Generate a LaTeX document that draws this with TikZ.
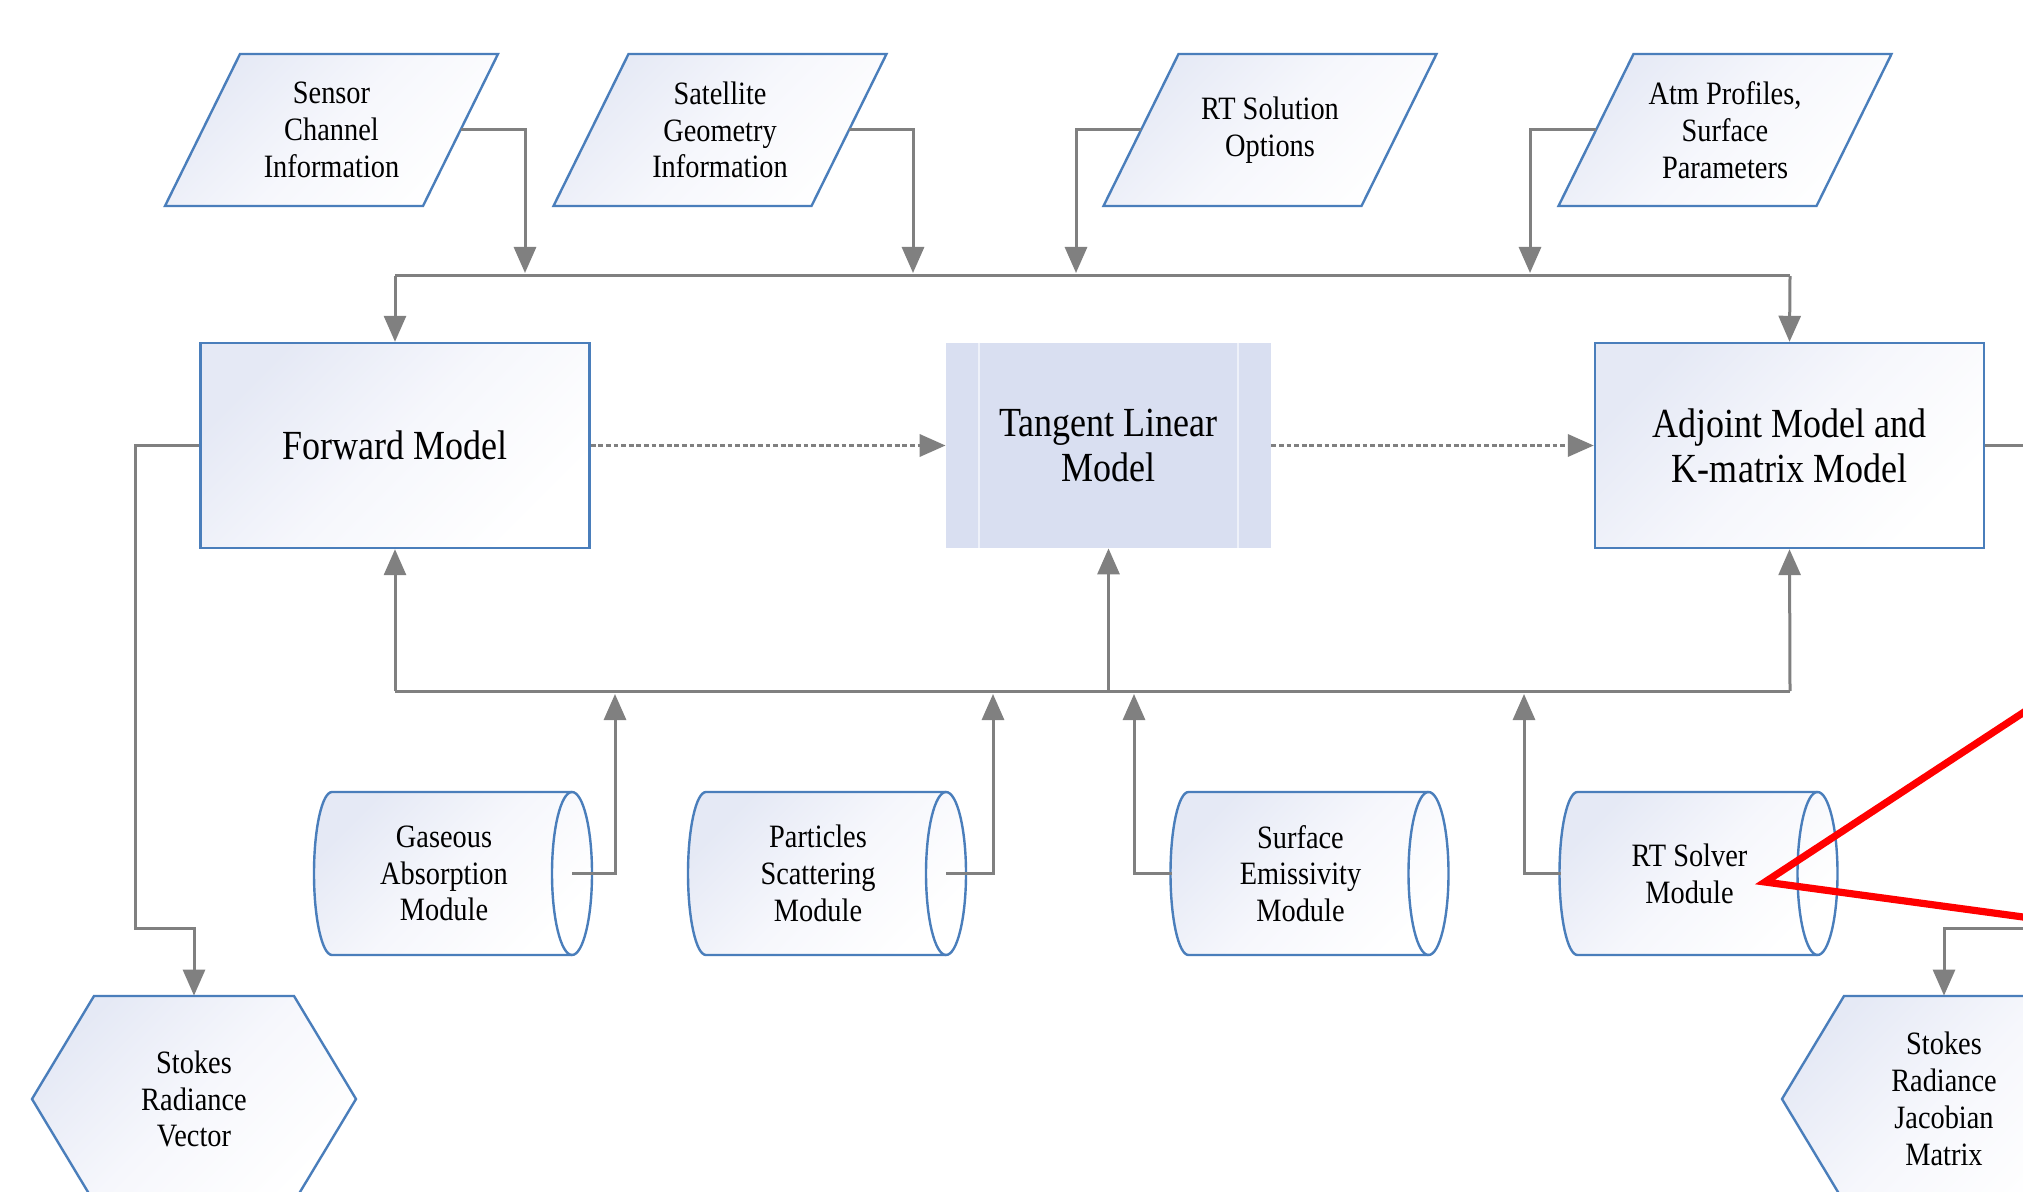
\documentclass[tikz,border=0pt]{standalone}
\usepackage{fontspec}
\setmainfont{Liberation Serif}[FakeStretch=0.87]
\usetikzlibrary{arrows.meta}
\definecolor{bblue}{RGB}{74,126,187}
\definecolor{lgray}{RGB}{128,128,128}
\definecolor{gradc}{RGB}{229,233,245}
\definecolor{gradm}{RGB}{246,247,252}
\definecolor{tlmfill}{RGB}{217,223,241}
\definecolor{tlmline}{RGB}{238,241,249}
\newcommand\fbig{\fontsize{20.7pt}{22.5pt}\selectfont}
\newcommand\fsmall{\fontsize{16.3pt}{18.4pt}\selectfont}
% shapes drawn from centre coordinates (image pixels)
\newcommand\parashape[2]{\path[shp] (#1,#2) ++(-166.5,76) -- ++(258,0) -- ++(75,-152) -- ++(-258,0) -- cycle;}
\newcommand\cylshape[2]{%
  \path[shp] (#1,#2) ++(-120,-81.5) -- ++(240,0)
     arc[start angle=90,end angle=-90,x radius=10pt,y radius=40.75pt]
     -- ++(-240,0)
     arc[start angle=270,end angle=90,x radius=9pt,y radius=40.75pt] -- cycle;
  \draw[bblue,line width=1.2pt] (#1,#2) ++(120,-81.5)
     arc[start angle=90,end angle=270,x radius=10pt,y radius=40.75pt];}
\newcommand\hexshape[2]{\path[shp] (#1,#2) ++(-100,-103) -- ++(200,0) -- ++(62,103) -- ++(-62,103) -- ++(-200,0) -- ++(-62,-103) -- cycle;}
\begin{document}
\begin{tikzpicture}[x=0.5pt,y=-0.5pt,
  shp/.style={draw=bblue,line width=1.2pt,top color=gradc,bottom color=white,middle color=gradm,shading angle=45},
  conn/.style={draw=lgray,line width=1.5pt},
  arr/.style={-{Triangle[length=13pt,width=11pt]},lgray},
  dotconn/.style={draw=lgray,line width=1.8pt,dash pattern=on 2.4pt off 1.4pt},
  ptxt/.style={font=\fsmall,align=center,inner sep=0pt,minimum width=129pt,minimum height=76pt},
  ctxt/.style={font=\fsmall,align=center,inner sep=0pt,minimum width=128pt,minimum height=81.5pt},
  htxt/.style={font=\fsmall,align=center,inner sep=0pt,minimum width=100pt,minimum height=103pt},
  mbox/.style={shp,font=\fbig,align=center,inner sep=0pt,minimum width=194.5pt,minimum height=102.5pt},
  tbox/.style={fill=tlmfill,font=\fbig,align=center,inner sep=0pt,minimum width=162.5pt,minimum height=102.5pt}]
\useasboundingbox (0,0) rectangle (2023,1192);
\clip (0,0) rectangle (2023,1192);
\fill[white] (0,0) rectangle (2023,1192);

% ---- shapes ----
\parashape{331.5}{130}
\parashape{720}{130}
\parashape{1270}{130}
\parashape{1725}{130}
\cylshape{452}{873.5}
\cylshape{826}{873.5}
\cylshape{1308.5}{873.5}
\cylshape{1697.5}{873.5}
\hexshape{194}{1099}
\hexshape{1944}{1099}

% ---- nodes ----
\node[ptxt] (sensor) at (331.5,130) {Sensor\\Channel\\Information};
\node[ptxt] (sat) at (720,130) {Satellite\\Geometry\\Information};
\node[ptxt] (rtopt) at (1270,130) {RT Solution\\Options};
\node[ptxt] (atm) at (1725,130) {Atm Profiles,\\Surface\\Parameters};

\node[mbox] (fwd) at (395,445.5) {Forward Model};
\node[tbox] (tlm) at (1108.5,445.5) {Tangent Linear\\Model};
\draw[tlmline,line width=1pt] (979,343) -- (979,548) (1238,343) -- (1238,548);
\node[mbox] (adj) at (1789.5,445.5) {Adjoint Model and\\K-matrix Model};

\node[ctxt] (gas) at (444,873.5) {Gaseous\\Absorption\\Module};
\node[ctxt] (part) at (818,873.5) {Particles\\Scattering\\Module};
\node[ctxt] (surf) at (1300.5,873.5) {Surface\\Emissivity\\Module};
\node[ctxt] (rts) at (1689.5,873.5) {RT Solver\\Module};

\node[htxt] (vec) at (194,1099) {Stokes\\Radiance\\Vector};
\node[htxt] (jac) at (1944,1099) {Stokes\\Radiance\\Jacobian\\Matrix};

% ---- bus coordinates ----
\coordinate (tbL) at (395,276);
\coordinate (tbR) at (1790,276);
\coordinate (in1) at (525,273);
\coordinate (in2) at (913,273);
\coordinate (in3) at (1076,273);
\coordinate (in4) at (1530,273);
\coordinate (bbL) at (395,691);
\coordinate (bbM) at (1108.5,691);
\coordinate (bbR) at (1790,691);
\coordinate (m1) at (615,694);
\coordinate (m2) at (993,694);
\coordinate (m3) at (1134,694);
\coordinate (m4) at (1524,694);
\coordinate (lc) at (135,928);
\coordinate (offA) at (2060,445.5);
\coordinate (offJ) at (2060,928);

% ---- connectors ----
\draw[conn,arr] (sensor.east) -| (in1);
\draw[conn,arr] (sat.east) -| (in2);
\draw[conn,arr] (rtopt.west) -| (in3);
\draw[conn,arr] (atm.west) -| (in4);
\draw[conn] (tbL) -- (tbR);
\draw[conn,arr] (tbL) -- (fwd.north);
\draw[conn,arr] (tbR) -- (adj.north);

\draw[dotconn,arr] (fwd.east) -- (tlm.west);
\draw[dotconn,arr] (tlm.east) -- (adj.west);

\draw[conn] (bbL) -- (bbR);
\draw[conn,arr] (bbL) -- (fwd.south);
\draw[conn,arr] (bbM) -- (tlm.south);
\draw[conn,arr] (bbR) -- (adj.south);
\draw[conn,arr] (gas.east) -| (m1);
\draw[conn,arr] (part.east) -| (m2);
\draw[conn,arr] (surf.west) -| (m3);
\draw[conn,arr] (rts.west) -| (m4);

\draw[conn,arr] (fwd.west) -| (lc) -| (vec.north);
\draw[conn] (adj.east) -- (offA);
\draw[conn,arr] (offJ) -| (jac.north);

% ---- red callout ----
\draw[red,line width=3.6pt,line join=miter] (2060,688.5) -- (1765,882) -- (2060,922);
\end{tikzpicture}
\end{document}
